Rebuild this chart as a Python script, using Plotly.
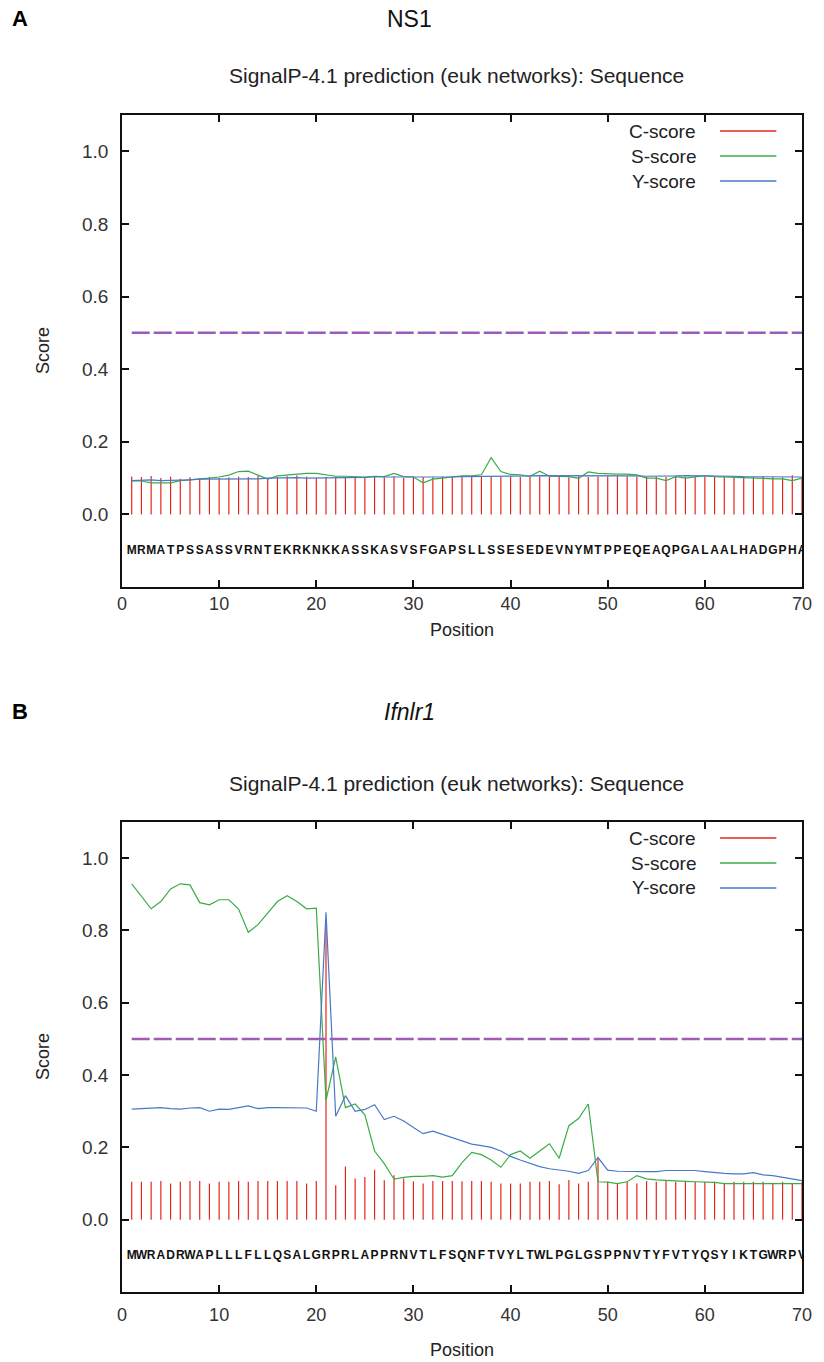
import plotly.graph_objects as go

# ---------------- data ----------------
positions = list(range(1, 71))
threshold = 0.5

ns1_seq = "MRMATPSSASSVRNTEKRKNKKASSKASVSFGAPSLLSSESEDEVNYMTPPEQEAQPGALAALHADGPHA"
ifn_seq = "MWRADRWAPLLLFLLQSALGRPRLAPPRNVTLFSQNFTVYLTWLPGLGSPPNVTYFVTYQSYIKTGWRPV"

ns1_c = [0.104, 0.103, 0.106, 0.100, 0.104, 0.098, 0.102, 0.100, 0.103, 0.100,
         0.102, 0.104, 0.103, 0.106, 0.100, 0.103, 0.105, 0.107, 0.104, 0.100,
         0.103, 0.104, 0.102, 0.105, 0.100, 0.104, 0.102, 0.105, 0.100, 0.104,
         0.103, 0.102, 0.104, 0.103, 0.105, 0.104, 0.103, 0.105, 0.104, 0.106,
         0.103, 0.105, 0.104, 0.103, 0.106, 0.102, 0.105, 0.103, 0.104, 0.105,
         0.106, 0.105, 0.104, 0.103, 0.104, 0.103, 0.105, 0.104, 0.103, 0.104,
         0.104, 0.103, 0.105, 0.104, 0.103, 0.104, 0.103, 0.102, 0.108, 0.103]
ns1_s = [0.092, 0.092, 0.087, 0.086, 0.087, 0.093, 0.095, 0.096, 0.100, 0.103,
         0.108, 0.118, 0.119, 0.108, 0.097, 0.106, 0.109, 0.110, 0.113, 0.113,
         0.110, 0.105, 0.105, 0.104, 0.103, 0.105, 0.104, 0.113, 0.104, 0.103,
         0.087, 0.097, 0.100, 0.102, 0.106, 0.106, 0.109, 0.156, 0.118, 0.110,
         0.109, 0.105, 0.119, 0.105, 0.104, 0.104, 0.099, 0.117, 0.113, 0.111,
         0.111, 0.111, 0.109, 0.100, 0.100, 0.093, 0.104, 0.100, 0.104, 0.107,
         0.104, 0.103, 0.100, 0.100, 0.099, 0.099, 0.098, 0.098, 0.093, 0.100]
ns1_y = [0.093, 0.094, 0.095, 0.093, 0.093, 0.094, 0.095, 0.097, 0.097, 0.097,
         0.096, 0.097, 0.097, 0.098, 0.100, 0.101, 0.100, 0.101, 0.100, 0.100,
         0.101, 0.102, 0.102, 0.102, 0.102, 0.103, 0.103, 0.103, 0.103, 0.102,
         0.101, 0.102, 0.103, 0.103, 0.104, 0.104, 0.104, 0.105, 0.105, 0.106,
         0.106, 0.106, 0.107, 0.107, 0.106, 0.106, 0.106, 0.107, 0.108, 0.108,
         0.107, 0.107, 0.106, 0.105, 0.105, 0.104, 0.106, 0.107, 0.107, 0.107,
         0.106, 0.105, 0.105, 0.104, 0.104, 0.104, 0.104, 0.103, 0.103, 0.103]

ifn_c = [0.105, 0.105, 0.105, 0.107, 0.100, 0.105, 0.107, 0.107, 0.100, 0.105,
         0.105, 0.107, 0.105, 0.107, 0.107, 0.107, 0.107, 0.107, 0.100, 0.107,
         0.810, 0.095, 0.147, 0.114, 0.118, 0.138, 0.109, 0.123, 0.114, 0.106,
         0.100, 0.107, 0.107, 0.107, 0.106, 0.107, 0.107, 0.105, 0.100, 0.100,
         0.100, 0.105, 0.105, 0.107, 0.098, 0.110, 0.100, 0.105, 0.170, 0.105,
         0.100, 0.105, 0.100, 0.107, 0.105, 0.107, 0.105, 0.107, 0.105, 0.105,
         0.105, 0.100, 0.105, 0.105, 0.105, 0.105, 0.100, 0.105, 0.100, 0.105]
ifn_s = [0.929, 0.894, 0.860, 0.880, 0.915, 0.929, 0.926, 0.877, 0.871, 0.885,
         0.885, 0.859, 0.795, 0.816, 0.848, 0.880, 0.896, 0.880, 0.860, 0.862,
         0.330, 0.450, 0.310, 0.320, 0.290, 0.190, 0.155, 0.112, 0.117, 0.120,
         0.120, 0.122, 0.118, 0.122, 0.158, 0.186, 0.180, 0.165, 0.145, 0.180,
         0.190, 0.170, 0.190, 0.210, 0.170, 0.260, 0.280, 0.320, 0.105, 0.104,
         0.100, 0.105, 0.122, 0.113, 0.110, 0.108, 0.106, 0.106, 0.105, 0.105,
         0.103, 0.100, 0.100, 0.100, 0.100, 0.100, 0.100, 0.098, 0.100, 0.100]
ifn_y = [0.306, 0.307, 0.309, 0.310, 0.307, 0.306, 0.309, 0.310, 0.300, 0.306,
         0.305, 0.310, 0.315, 0.307, 0.310, 0.310, 0.310, 0.309, 0.309, 0.300,
         0.850, 0.286, 0.343, 0.300, 0.305, 0.318, 0.277, 0.286, 0.273, 0.255,
         0.238, 0.245, 0.236, 0.227, 0.218, 0.209, 0.205, 0.200, 0.190, 0.175,
         0.165, 0.155, 0.147, 0.141, 0.138, 0.134, 0.128, 0.136, 0.172, 0.137,
         0.134, 0.133, 0.132, 0.133, 0.133, 0.136, 0.136, 0.136, 0.136, 0.133,
         0.130, 0.128, 0.127, 0.127, 0.130, 0.124, 0.122, 0.117, 0.113, 0.108]

panels = [
    dict(letter="A", name="NS1", italic=False, seq=ns1_seq, c=ns1_c, s=ns1_s, y=ns1_y),
    dict(letter="B", name="Ifnlr1", italic=True, seq=ifn_seq, c=ifn_c, s=ifn_s, y=ifn_y),
]
subtitle = "SignalP-4.1 prediction (euk networks): Sequence"
legend_names = ["C-score", "S-score", "Y-score"]

# ---------------- style / layout ----------------
RED = "#e3261d"
GREEN = "#3aad48"
BLUE = "#4a78c8"
PURPLE = "#9d5bb5"
FONT = "Liberation Sans, Arial, sans-serif"
SEQFONT = "Liberation Sans Narrow, Arial Narrow, Liberation Sans, Arial, sans-serif"

W, H = 824, 1362
# plot area in page pixel coordinates
LEFT, RIGHT, TOP, BOTTOM = 122, 811, 115, 1292
ML, MT, MR, MB = LEFT, TOP, W - RIGHT, H - BOTTOM
PH = BOTTOM - TOP
PW = RIGHT - LEFT
frames = [(115, 587), (822, 1292)]  # top, bottom px of each plot frame


def py(px):
    return (BOTTOM - px) / PH


def pxx(px):
    return (px - LEFT) / PW


fig = go.Figure()
annotations = []
shapes = []

for i, p in enumerate(panels):
    xa = "x" if i == 0 else "x2"
    ya = "y" if i == 0 else "y2"
    top, bot = frames[i]
    cx, cy = [], []
    for pos, v in zip(positions, p["c"]):
        cx += [pos, pos, None]
        cy += [0, v, None]
    fig.add_trace(go.Scatter(x=cx, y=cy, mode="lines", line=dict(color=RED, width=1.2),
                             xaxis=xa, yaxis=ya, showlegend=False, hoverinfo="skip"))
    fig.add_trace(go.Scatter(x=positions, y=p["s"], mode="lines", line=dict(color=GREEN, width=1.2),
                             xaxis=xa, yaxis=ya, showlegend=False))
    fig.add_trace(go.Scatter(x=positions, y=p["y"], mode="lines", line=dict(color=BLUE, width=1.2),
                             xaxis=xa, yaxis=ya, showlegend=False))
    fig.add_trace(go.Scatter(x=[positions[0], positions[-1]], y=[threshold, threshold], mode="lines",
                             line=dict(color=PURPLE, width=2.5, dash="18px,4px"),
                             xaxis=xa, yaxis=ya, showlegend=False))
    fig.add_trace(go.Scatter(x=positions, y=[-0.1] * len(positions), mode="text",
                             text=list(p["seq"]), textposition="middle center",
                             textfont=dict(family=SEQFONT, size=12, color="#111", weight="bold"),
                             xaxis=xa, yaxis=ya, showlegend=False, hoverinfo="skip"))

    for k, (nm, col) in enumerate(zip(legend_names, [RED, GREEN, BLUE])):
        ypx = top + 16 + 25 * k
        annotations.append(dict(text=nm, x=pxx(706), y=py(ypx), xref="paper", yref="paper",
                                xanchor="right", yanchor="middle", showarrow=False,
                                font=dict(family=FONT, size=19, color="#222")))
        shapes.append(dict(type="line", xref="paper", yref="paper", x0=pxx(728), x1=pxx(785),
                           y0=py(ypx), y1=py(ypx), line=dict(color=col, width=1.3)))

    base = 19 if i == 0 else 712
    annotations.append(dict(text=f"<b>{p['letter']}</b>", x=pxx(19), y=py(base), xref="paper", yref="paper",
                            xanchor="center", yanchor="middle", showarrow=False,
                            font=dict(family=FONT, size=22, color="#000")))
    nm = f"<i>{p['name']}</i>" if p["italic"] else p["name"]
    annotations.append(dict(text=nm, x=pxx(413), y=py(base), xref="paper", yref="paper",
                            xanchor="center", yanchor="middle", showarrow=False,
                            font=dict(family=FONT, size=23, color="#111")))
    annotations.append(dict(text=subtitle, x=pxx(461), y=py(top - 39), xref="paper",
                            yref="paper", xanchor="center", yanchor="middle", showarrow=False,
                            font=dict(family=FONT, size=21, color="#222")))
    pos_y = 630 if i == 0 else 1350
    annotations.append(dict(text="Position", x=pxx(466), y=py(pos_y), xref="paper", yref="paper",
                            xanchor="center", yanchor="middle", showarrow=False,
                            font=dict(family=FONT, size=18, color="#222")))
    annotations.append(dict(text="Score", x=pxx(42), y=py((top + bot) / 2), xref="paper", yref="paper",
                            xanchor="center", yanchor="middle", showarrow=False, textangle=-90,
                            font=dict(family=FONT, size=18, color="#222")))

axis_common = dict(showgrid=False, zeroline=False, showline=True, linecolor="#111", linewidth=1.5,
                   mirror="ticks", ticks="inside", ticklen=7, tickcolor="#111", tickwidth=1.5)
xfont = dict(family=FONT, size=18, color="#333")
yfont = dict(family=FONT, size=19, color="#333")

xticks = [0, 10, 20, 30, 40, 50, 60, 70]
yticks = [0.0, 0.2, 0.4, 0.6, 0.8, 1.0]

dA = (py(frames[0][1]), py(frames[0][0]))
dB = (py(frames[1][1]), py(frames[1][0]))

fig.update_layout(
    width=W, height=H,
    margin=dict(l=ML, r=MR, t=MT, b=MB),
    paper_bgcolor="white", plot_bgcolor="white",
    showlegend=False,
    xaxis=dict(axis_common, range=[0, 70], tickvals=xticks, anchor="y", domain=[0, 1],
               tickfont=xfont, ticklabelstandoff=0),
    yaxis=dict(axis_common, range=[-0.2, 1.1], tickvals=yticks, tickformat=".1f", anchor="x",
               domain=list(dA), tickfont=yfont, ticklabelstandoff=8),
    xaxis2=dict(axis_common, range=[0, 70], tickvals=xticks, anchor="y2", domain=[0, 1],
                tickfont=xfont, ticklabelstandoff=6),
    yaxis2=dict(axis_common, range=[-0.2, 1.1], tickvals=yticks, tickformat=".1f", anchor="x2",
                domain=list(dB), tickfont=yfont, ticklabelstandoff=8),
    annotations=annotations,
    shapes=shapes,
)

fig.write_html("out.html", config={"displayModeBar": False},
               post_script="document.body.style.margin='0';document.body.style.overflow='hidden';")
